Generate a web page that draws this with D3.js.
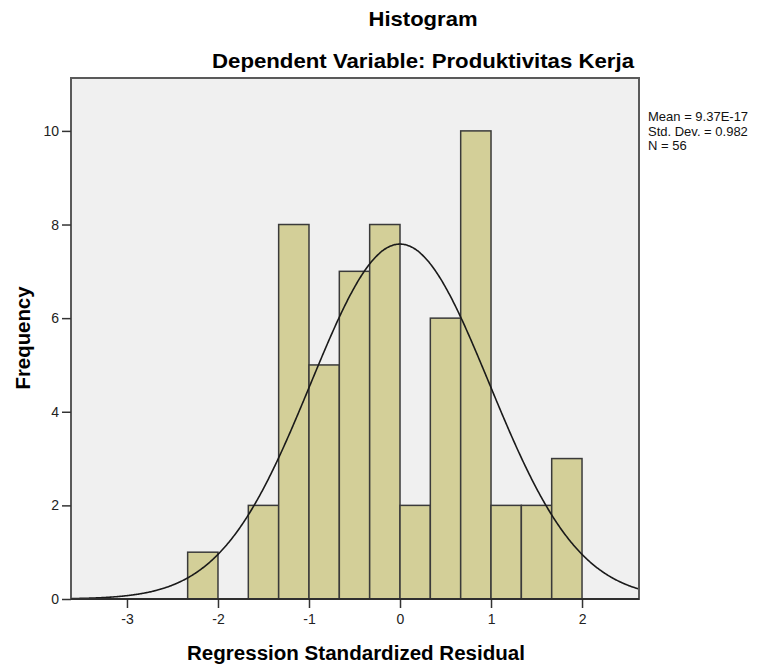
<!DOCTYPE html>
<html><head><meta charset="utf-8">
<script src="https://cdn.jsdelivr.net/npm/d3@7"></script>
<style>body{margin:0;background:#fff;} text{font-family:"Liberation Sans",Arial,sans-serif;}</style>
</head><body>
<svg id="c" width="768" height="665"></svg>
<script>
const binEdges = [-2.3333,-2,-1.6667,-1.3333,-1,-0.6667,-0.3333,0,0.3333,0.6667,1,1.3333,1.6667,2];
const binCounts = [1,0,2,8,5,7,8,2,6,10,2,2,3];
const xTicks = [-3,-2,-1,0,1,2];
const yTicks = [0,2,4,6,8,10];
const statLines = ["Mean = 9.37E-17","Std. Dev. = 0.982","N = 56"];
const mean = 9.37e-17, sd = 0.982, n = 56;

const svg = d3.select("#c");
const L = 71, R = 639, T = 78, B = 599;
const x = d3.scaleLinear().domain([-3.615, 2.626]).range([L, R]);
const y = d3.scaleLinear().domain([0, 11.13]).range([B, T]);

svg.append("rect").attr("x",L).attr("y",T).attr("width",R-L).attr("height",B-T).attr("fill","#f0f0f0");

const bins = binCounts.map((c,i)=>({x0:binEdges[i],x1:binEdges[i+1],c})).filter(d=>d.c>0);
svg.selectAll("rect.bar").data(bins).enter().append("rect").attr("class","bar")
  .attr("x",d=>x(d.x0)).attr("y",d=>y(d.c)).attr("width",d=>x(d.x1)-x(d.x0)).attr("height",d=>y(0)-y(d.c))
  .attr("fill","#d3cf98").attr("stroke","#3a3a3a").attr("stroke-width",1.5);

// normal curve
const bw = binEdges[1]-binEdges[0];
const pts = d3.range(-3.615, 2.627, 0.01).map(v=>[v, n*bw/(sd*Math.sqrt(2*Math.PI))*Math.exp(-0.5*((v-mean)/sd)**2)]);
svg.append("path").datum(pts).attr("d", d3.line().x(d=>x(d[0])).y(d=>y(d[1])).curve(d3.curveBasis))
  .attr("fill","none").attr("stroke","#1a1a1a").attr("stroke-width",1.6);

// frame
svg.append("rect").attr("x",L).attr("y",T).attr("width",R-L).attr("height",B-T).attr("fill","none").attr("stroke","#5a5a5a").attr("stroke-width",2);

// axes
const xa = svg.append("g").attr("transform",`translate(0,${B})`).call(d3.axisBottom(x).tickValues(xTicks).tickSize(9).tickPadding(6).tickFormat(d=>String(d)));
const ya = svg.append("g").attr("transform",`translate(${L},0)`).call(d3.axisLeft(y).tickValues(yTicks).tickSize(9).tickPadding(3).tickFormat(d=>String(d)));
[xa,ya].forEach(a=>{
  a.select(".domain").remove();
  a.selectAll(".tick line").attr("stroke","#333").attr("stroke-width",1.5);
  a.selectAll(".tick text").attr("fill","#222").style("font-size","14px").style("font-family","'Liberation Sans',Arial,sans-serif");
});
svg.append("line").attr("x1",L).attr("x2",R).attr("y1",B).attr("y2",B).attr("stroke","#222").attr("stroke-width",1.5);

// titles
svg.append("text").attr("x",423).attr("y",26).attr("text-anchor","middle").style("font-size","21px").style("font-weight","bold")
  .attr("textLength",109).attr("lengthAdjust","spacingAndGlyphs").text("Histogram");
svg.append("text").attr("x",423).attr("y",68).attr("text-anchor","middle").style("font-size","21px").style("font-weight","bold")
  .attr("textLength",422).attr("lengthAdjust","spacingAndGlyphs").text("Dependent Variable: Produktivitas Kerja");
svg.append("text").attr("x",356).attr("y",660).attr("text-anchor","middle").style("font-size","20px").style("font-weight","bold")
  .attr("textLength",338).attr("lengthAdjust","spacingAndGlyphs").text("Regression Standardized Residual");
svg.append("text").attr("transform","translate(30,338) rotate(-90)").attr("text-anchor","middle").style("font-size","20px").style("font-weight","bold")
  .attr("textLength",103).attr("lengthAdjust","spacingAndGlyphs").text("Frequency");

svg.append("g").selectAll("text").data(statLines).enter().append("text")
  .attr("x",648).attr("y",(d,i)=>121+i*14.5).style("font-size","13px").attr("fill","#111").text(d=>d);
</script>
</body></html>
